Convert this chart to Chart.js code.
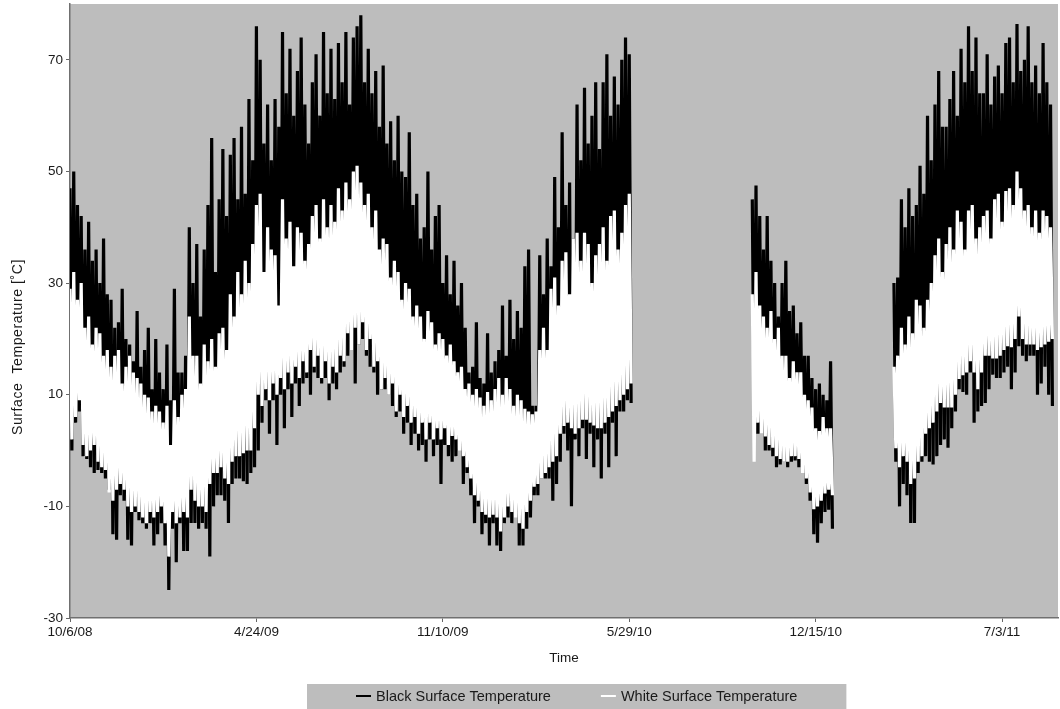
<!DOCTYPE html>
<html>
<head>
<meta charset="utf-8">
<title>Surface Temperature</title>
<script src="https://cdn.jsdelivr.net/npm/chart.js@4.4.1/dist/chart.umd.min.js"></script>
<style>
  html, body { margin: 0; padding: 0; background: #fff; }
  #wrap { width: 1060px; height: 709px; position: relative; }
</style>
</head>
<body>
<div id="wrap"><canvas id="tempChart"></canvas></div>
<script>
// days since 10/6/08; each series sampled every 4 days as daily high / low
const SAMPLE_STEP = 4;
const segmentStart = [0, 732, 884];

const tickDays = [0, 200, 400, 600, 800, 1000];
const tickLabels = ['10/6/08', '4/24/09', '11/10/09', '5/29/10', '12/15/10', '7/3/11'];
const yTicks = [-30, -10, 10, 30, 50, 70];

const blackHigh = [
  [47, 50, 44, 42, 36, 41, 34, 36, 30, 38, 28, 27, 22, 23, 29, 20, 19, 16, 25, 15, 18, 22, 11, 20, 14, 11,
   19, 9, 29, 14, 14, 17, 40, 30, 37, 24, 36, 44, 56, 32, 45, 54, 42, 53, 56, 45, 58, 46, 63, 52, 76,
   70, 55, 62, 52, 63, 58, 75, 64, 72, 60, 68, 74, 62, 55, 66, 71, 60, 75, 64, 72, 63, 73, 66, 75, 62, 74,
   76, 78, 66, 72, 64, 68, 58, 69, 55, 59, 52, 60, 50, 49, 57, 44, 46, 38, 40, 50, 36, 42, 44, 30, 35, 28,
   34, 26, 30, 22, 14, 15, 23, 13, 12, 21, 14, 16, 18, 26, 17, 27, 20, 25, 22, 33, 36, 8, 8, 35, 28, 38,
   33, 49, 40, 57, 44, 48, 38, 62, 52, 65, 55, 60, 66, 54, 66, 71, 60, 67, 62, 70, 74, 71],
  [45, 47.5, 42, 36, 42, 34, 30, 24, 30, 34, 25, 26, 21, 23, 17, 17, 13, 11, 12, 10, 9, 16],
  [30, 31, 45, 40, 47, 42, 44, 51, 46, 60, 52, 62, 68, 58, 58, 63, 68, 60, 72, 66, 76, 68, 74, 64, 64,
   71, 62, 67, 69, 64, 73, 74, 66, 76.4, 68, 70, 76, 66, 69, 64, 73, 66, 62]
];
const blackLow = [
  [0, 5, 7, -1, -1.5, -3, -4, -3.5, -4, -5, -7, -15, -16, -8, -9, -16, -17, -11, -12.5, -13, -14, -13, -17,
   -15, -13, -17, -25, -14, -20, -13, -18, -18, -13, -13, -14, -13, -14, -19, -10, -8, -8, -9, -13, -6,
   -5, -5, -5.5, -6, -4, -3, 0,
   5, 9, 3, 9, 1, 10, 4, 11, 6, 12, 8, 12, 13, 10, 14, 13, 12, 13, 9, 12, 11, 14, 15, 17, 18, 12, 19, 20,
   17, 15, 14, 10, 11, 11, 10, 8, 6, 7, 3, 5, 1, 3, 0, 1, -2, 2, -1, 1, -6, 1, -1, -2,
   -1, 1, -6, -4, -8, -13, -10, -15, -13, -17, -13, -17, -18, -13, -12, -13, -11, -17, -17, -14, -12, -8,
   -8, -5, -5, -5, -9, -6, -2, 3, 0, -10, 2, -1, 4, -1.5, 3, -3, 2, -5, 3, -3, 5, -1, 7, 7, 9, 8.5],
  [6, 3, 3, 0, 0, -1, -3, -2.5, -2, -3, -2, -1.8, -3, -3, -6, -9, -15, -16.5, -13, -11, -10.6, -14],
  [-2, -10, -6, -8, -13, -13, -4, -2, -1, -2, -2.5, -1, 1, 2, 0.5, 4, 7, 11, 10.5, 10, 14, 5, 7, 8, 8.5,
   11, 13.6, 13, 13, 14, 15, 11, 14, 18.7, 17, 16, 17, 17, 10, 12, 15, 10, 8]
];
const whiteHigh = [
  [29, 32, 27, 30, 22, 24, 19, 22, 21, 17, 18, 15, 17, 18, 12, 15, 17, 14, 13, 12, 10, 9.5, 7, 8, 7, 5, 8,
   1, 9, 6, 10, 11, 24, 17, 17, 12, 19, 16, 20, 15, 21, 22, 18, 28, 24, 32, 28, 34, 30, 37, 44,
   46, 32, 40, 36, 35, 26, 45, 38, 41, 33, 40, 39, 34, 37, 42, 44, 38, 45, 40, 44, 41, 47, 43, 48, 45, 50,
   51, 48, 44, 46, 40, 43, 36, 38, 37, 31, 34, 32, 27, 30, 29, 24, 26, 24, 20, 25, 23, 19, 21, 20, 17, 19,
   16, 14, 15, 11, 12, 10, 11, 9.5, 8, 10.5, 9, 11, 13, 10, 13, 11, 8, 10, 9, 7.5, 7, 6.5, 7, 18, 22, 18,
   29, 31, 26, 34, 35.5, 28, 38, 39, 34, 39, 37, 30, 35, 37, 40, 34, 42, 43, 36, 39, 44, 46],
  [28, 32, 26, 24, 22, 25, 20, 22, 17, 17, 13, 16, 14, 14, 10, 9, 7.7, 4, 3.5, 6, 4, 4],
  [15, 17, 22, 19, 24, 21, 27, 26, 22, 27, 30, 35, 38, 32, 37, 40, 36, 43, 41, 36, 43, 44, 38, 40, 42,
   43, 38, 45, 46, 41, 46.5, 47, 44, 50, 47, 43, 44, 40, 43, 39, 43, 42, 40]
];
const whiteLow = [
  [2, 6, 9, 1, -1, 0, 1, -2, -3, -3.5, -7.5, -9, -7, -6, -7, -10, -11, -10, -11, -12, -13, -11, -12, -11,
   -10, -13, -19, -11, -13, -12, -11, -12, -7, -9, -10, -10, -11, -6, -4, -4, -3, -5, -6, -2, -1, -1,
   -0.5, 0, 0, 4, 10,
   8, 11, 9, 12, 10, 13, 11, 14, 12, 15, 13, 16, 14, 18, 15, 17, 13, 16, 12, 15, 14, 17, 16, 21, 18, 22,
   19, 23, 18, 20, 15, 16, 11, 13, 10, 12, 7, 10, 6, 8, 5, 6, 3, 5, 2, 5, 2, 4, 2, 4, 1, 2.6,
   2, 0, -1, -3, -5, -8, -9, -11, -11.5, -12, -11.5, -12, -14.5, -12, -10, -11, -12, -13, -14, -11, -9,
   -6.5, -6, -5, -4, -3, -2, -1, 3, 4.4, 5, 4, 3, 4, 5.5, 5.5, 5, 4.5, 4, 4, 5, 6, 7, 8, 9, 10, 11, 12],
  [-2, 5, 3, 2.5, 1, 0.5, -1, -1.5, -2, -2, -1, -1, -1.5, -4, -5, -7.5, -10.5, -10, -9, -7.7, -7, -8],
  [0.4, -3, -1, -2, -6, -5, -2, -1, 3, 4, 5, 7, 8.5, 7.7, 7.7, 7.7, 10, 12.8, 13.5, 14, 16, 14, 11, 14,
   17, 17, 16.5, 16.5, 17, 18, 18.7, 18.5, 20, 24, 20, 19, 19, 19, 18, 18.5, 19, 19.5, 20]
];

// one zigzag per sample: high, then low half a step later
function zigzag(highs, lows) {
  const pts = [];
  segmentStart.forEach((start, s) => {
    highs[s].forEach((hi, i) => {
      const d = start + i * SAMPLE_STEP;
      pts.push({ x: d, y: hi });
      pts.push({ x: d + SAMPLE_STEP / 2, y: lows[s][i] });
    });
    // break the line between recording periods
    pts.push({ x: start + highs[s].length * SAMPLE_STEP, y: null });
  });
  return pts;
}

const FONT = '"Liberation Sans", Arial, Helvetica, sans-serif';
const TEXT = '#1a1a1a';
Chart.defaults.font.family = FONT;
Chart.defaults.font.size = 13.5;
Chart.defaults.color = TEXT;

const plotBackground = {
  id: 'plotBackground',
  beforeDraw(chart) {
    const { ctx, chartArea: a } = chart;
    ctx.save();
    ctx.fillStyle = '#bdbdbd';
    ctx.fillRect(a.left, a.top, a.right - a.left, a.bottom - a.top);
    ctx.restore();
  }
};

// y title sits a little below the middle of the plot, as in the original
const yTitle = {
  id: 'yTitle',
  afterDraw(chart) {
    const { ctx } = chart;
    ctx.save();
    ctx.translate(18, 347);
    ctx.rotate(-Math.PI / 2);
    ctx.font = '14px ' + FONT;
    ctx.letterSpacing = '0.6px';
    ctx.fillStyle = TEXT;
    ctx.textAlign = 'center';
    ctx.textBaseline = 'middle';
    ctx.fillText('Surface  Temperature [˚C]', 0, 0);
    ctx.restore();
  }
};

// legend sits in a grey box under the axis title
const boxedLegend = {
  id: 'boxedLegend',
  afterDraw(chart) {
    const { ctx } = chart;
    const items = chart.data.datasets.map(ds => ({ text: ds.label, color: ds.borderColor }));
    ctx.save();
    ctx.font = '14.5px ' + FONT;
    const lineW = 15, gapText = 5, gapItems = 50, padX = 49;
    const widths = items.map(it => lineW + gapText + ctx.measureText(it.text).width);
    const inner = widths.reduce((s, w) => s + w, 0) + gapItems * (items.length - 1);
    const boxLeft = 307;
    const boxTop = chart.height - 25;
    ctx.fillStyle = '#bdbdbd';
    ctx.fillRect(boxLeft, boxTop, inner + padX * 2, 25);
    let x = boxLeft + padX;
    const y = boxTop + 13;
    ctx.textBaseline = 'middle';
    items.forEach((it, i) => {
      ctx.strokeStyle = it.color;
      ctx.lineWidth = 2;
      ctx.beginPath();
      ctx.moveTo(x, y - 1);
      ctx.lineTo(x + lineW, y - 1);
      ctx.stroke();
      ctx.fillStyle = TEXT;
      ctx.fillText(it.text, x + lineW + gapText, y);
      x += widths[i] + gapItems;
    });
    ctx.restore();
  }
};

new Chart(document.getElementById('tempChart'), {
  type: 'line',
  data: {
    datasets: [
      {
        label: 'Black Surface Temperature',
        data: zigzag(blackHigh, blackLow),
        borderColor: '#000000',
        borderWidth: 3.2,
        borderJoinStyle: 'bevel',
        pointRadius: 0,
        tension: 0,
        order: 1
      },
      {
        label: 'White Surface Temperature',
        data: zigzag(whiteHigh, whiteLow),
        borderColor: '#ffffff',
        borderWidth: 3.2,
        borderJoinStyle: 'bevel',
        pointRadius: 0,
        tension: 0,
        order: 0
      }
    ]
  },
  options: {
    responsive: true,
    maintainAspectRatio: false,
    animation: false,
    events: [],
    layout: { padding: { top: 4, right: 2, left: 0, bottom: 0 } },
    scales: {
      x: {
        type: 'linear',
        min: 0,
        max: 1060,
        afterBuildTicks: s => { s.ticks = tickDays.map(v => ({ value: v })); },
        afterFit: s => { s.height = 91; },
        ticks: {
          callback: (v, i) => tickLabels[i],
          autoSkip: false,
          maxRotation: 0,
          padding: 2,
          color: TEXT
        },
        grid: { drawOnChartArea: false, drawTicks: true, tickLength: 4, color: '#666' },
        border: { color: '#707070', width: 1.5 },
        title: { display: true, text: 'Time', color: TEXT, padding: { top: 0, bottom: 43 } }
      },
      y: {
        min: -30,
        max: 80,
        afterBuildTicks: s => { s.ticks = yTicks.map(v => ({ value: v })); },
        afterFit: s => { s.width = 70; s.paddingTop = 0; s.paddingBottom = 0; },
        ticks: { padding: 3, color: TEXT },
        grid: { drawOnChartArea: false, drawTicks: true, tickLength: 4, color: '#666' },
        border: { color: '#707070', width: 1.5 },
        title: { display: false }
      }
    },
    plugins: {
      legend: { display: false },
      tooltip: { enabled: false }
    }
  },
  plugins: [plotBackground, yTitle, boxedLegend]
});
</script>
</body>
</html>
